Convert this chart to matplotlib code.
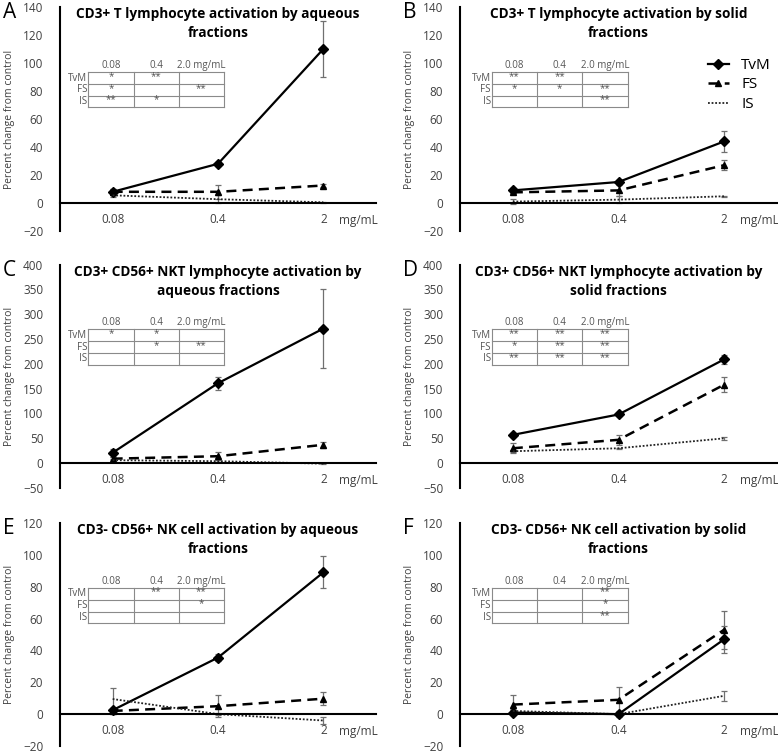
import matplotlib
matplotlib.use("Agg")
import matplotlib.pyplot as plt
from matplotlib.lines import Line2D

plt.rcParams['font.family'] = ['Open Sans', 'DejaVu Sans']

doses = ["0.08", "0.4", "2"]
series = ["TvM", "FS", "IS"]
table_header = ["0.08", "0.4", "2.0 mg/mL"]

titles = [
    "CD3+ T lymphocyte activation by aqueous\nfractions",
    "CD3+ T lymphocyte activation by solid\nfractions",
    "CD3+ CD56+ NKT lymphocyte activation by\naqueous fractions",
    "CD3+ CD56+ NKT lymphocyte activation by\nsolid fractions",
    "CD3- CD56+ NK cell activation by aqueous\nfractions",
    "CD3- CD56+ NK cell activation by solid\nfractions",
]
letters = ["A", "B", "C", "D", "E", "F"]

# mean values (TvM, FS, IS) per panel
tvm = [[8, 28, 110], [9, 15, 44], [21, 161, 271],
       [57, 98, 209], [2.5, 35.5, 89], [1, 0, 47]]
fs = [[8, 8, 12.5], [7.6, 9, 27], [9, 14, 37],
      [30, 47, 158], [2, 5, 9.7], [6, 9, 53]]
is_ = [[5.5, 2.7, 0.5], [1, 2.4, 4.8], [6, 4, -1],
       [24, 30, 50], [9.5, 0, -4], [2, 0, 11.5]]
# error bars
tvm_err = [[2, 1.5, 20], [2, 1.5, 7.5], [8, 13, 80],
           [3, 3, 9], [1.5, 2, 10], [1.5, 2, 8.5]]
fs_err = [[2, 5, 1], [1.5, 4, 3.5], [3, 8, 6],
          [10, 10, 15], [1, 7, 4], [6, 8, 12]]
is_err = [[1.5, 3, 0.5], [2, 2.5, 0.5], [2, 2, 1],
          [2, 1, 3], [7, 0.5, 2], [1, 1, 3]]

ylims = [(-20, 140), (-20, 140), (-50, 400), (-50, 400), (-20, 120), (-20, 120)]
ysteps = [20, 20, 50, 50, 20, 20]

signif = [
    [["*", "**", ""], ["*", "", "**"], ["**", "*", ""]],
    [["**", "**", ""], ["*", "*", "**"], ["", "", "**"]],
    [["*", "*", ""], ["", "*", "**"], ["", "", ""]],
    [["**", "**", "**"], ["*", "**", "**"], ["**", "**", "**"]],
    [["", "**", "**"], ["", "", "*"], ["", "", ""]],
    [["", "", "**"], ["", "", "*"], ["", "", "**"]],
]

W, H = 778, 753
fig = plt.figure(figsize=(W / 100, H / 100), dpi=100)

col_left = [60, 460]
col_right = [376, 777]
row_top = [7, 264.5, 523]
row_bot = [231, 488, 746]

styles = [dict(color='black', lw=1.6, marker='D', markersize=5),
          dict(color='black', lw=1.8, ls=(0, (4, 2.5)), marker='^', markersize=5),
          dict(color='#222222', lw=1.3, ls=(0, (1, 1)))]

for i in range(6):
    r, c = i // 2, i % 2
    ax = fig.add_axes([col_left[c] / W, 1 - row_bot[r] / H,
                       (col_right[c] - col_left[c]) / W,
                       (row_bot[r] - row_top[r]) / H])
    x = range(len(doses))
    for vals, errs, st in zip([tvm[i], fs[i], is_[i]],
                              [tvm_err[i], fs_err[i], is_err[i]], styles):
        ax.errorbar(x, vals, yerr=errs, ecolor='#707070', elinewidth=0.9,
                    capsize=2, capthick=0.9, **st)

    ax.set_xlim(-0.5, 2.5)
    lo, hi = ylims[i]
    ax.set_ylim(lo, hi)
    ax.set_yticks(range(lo, hi + 1, ysteps[i]))
    ax.set_xticks(list(x))
    ax.set_xticklabels(doses)
    for s in ['top', 'right']:
        ax.spines[s].set_visible(False)
    ax.spines['bottom'].set_position(('data', 0))
    ax.spines['bottom'].set_linewidth(1.5)
    ax.spines['left'].set_linewidth(1.5)
    ax.tick_params(axis='both', length=0, colors='#404040')
    ax.tick_params(axis='y', labelsize=8.5, pad=12)
    ax.tick_params(axis='x', labelsize=8.5, pad=7)
    ax.set_ylabel("Percent change from control", fontsize=7.5, color='#404040',
                  labelpad=6)
    ax.annotate("mg/mL", xy=(0.945, 0), xycoords=('axes fraction', 'data'),
                xytext=(0, -8), textcoords='offset points', ha='center',
                va='top', fontsize=8.5, color='#404040')

    ax.text(0.5, 0.998, titles[i], transform=ax.transAxes, ha='center',
            va='top', fontsize=9.8, fontweight='bold', linespacing=1.45)

    # significance table
    x0 = 0.09 if c == 0 else 0.10
    cw = 0.143
    ys = [0.71, 0.656, 0.603, 0.552]
    for yy in ys:
        ax.plot([x0, x0 + 3 * cw], [yy, yy], transform=ax.transAxes,
                color='#8a8a8a', lw=0.8, clip_on=False)
    for k in range(4):
        ax.plot([x0 + k * cw] * 2, [ys[0], ys[-1]], transform=ax.transAxes,
                color='#8a8a8a', lw=0.8, clip_on=False)
    for k, h in enumerate(table_header):
        ax.text(x0 + (k + 0.5) * cw, ys[0] + 0.005, h, transform=ax.transAxes,
                ha='center', va='bottom', fontsize=7, color='#555555')
    for j, name in enumerate(series):
        yc = (ys[j] + ys[j + 1]) / 2
        ax.text(x0 - 0.003, yc, name, transform=ax.transAxes, ha='right',
                va='center', fontsize=7, color='#555555')
        for k in range(3):
            ax.text(x0 + (k + 0.5) * cw, yc + 0.008, signif[i][j][k],
                    transform=ax.transAxes, ha='center', va='center',
                    fontsize=7, color='#555555')

    fig.text((col_left[c] - 57) / W, 1 - (row_top[r] + 6) / H, letters[i],
             fontsize=15, ha='left', va='center')

    if i == 1:
        handles = [Line2D([], [], **st) for st in styles]
        ax.legend(handles, series, loc='upper right', bbox_to_anchor=(1.0, 0.8),
                  frameon=False, fontsize=11, handlelength=1.4,
                  handletextpad=0.8, labelspacing=0.3, borderaxespad=0)

fig.savefig("out.png", dpi=100)
